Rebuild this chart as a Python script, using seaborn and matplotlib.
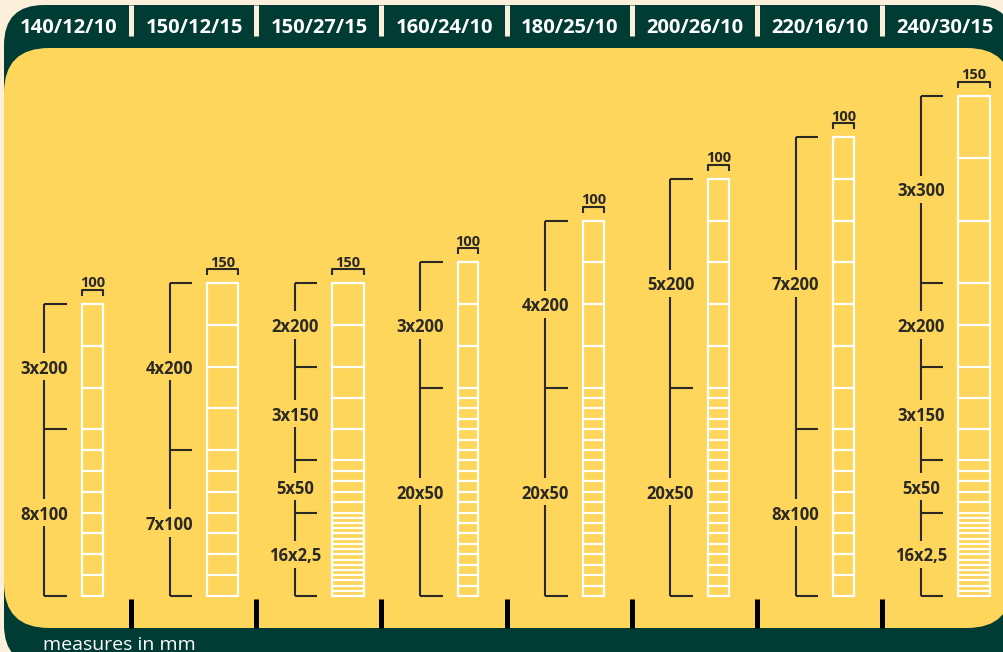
import numpy as np
import pandas as pd
import matplotlib
matplotlib.use("Agg")
import matplotlib.pyplot as plt
import matplotlib.transforms as mtransforms
from matplotlib.patches import FancyBboxPatch
import seaborn as sns

# panel types: height / number of wires / post spacing
panels = ["140/12/10", "150/12/15", "150/27/15", "160/24/10",
          "180/25/10", "200/26/10", "220/16/10", "240/30/15"]
mesh_width = [100, 150, 150, 100, 100, 100, 100, 150]

# wire spacing sections, top to bottom (count x spacing in mm)
seg_counts = [[3, 8], [4, 7], [2, 3, 5, 16], [3, 20],
              [4, 20], [5, 20], [7, 8], [3, 2, 3, 5, 16]]
seg_spacing = [[200, 100], [200, 100], [200, 150, 50, 25], [200, 50],
               [200, 50], [200, 50], [200, 100], [300, 200, 150, 50, 25]]
seg_labels = [["3x200", "8x100"], ["4x200", "7x100"],
              ["2x200", "3x150", "5x50", "16x2,5"], ["3x200", "20x50"],
              ["4x200", "20x50"], ["5x200", "20x50"], ["7x200", "8x100"],
              ["3x300", "2x200", "3x150", "5x50", "16x2,5"]]

CREAM = "#fcf0dd"
GREEN = "#003b34"
YELLOW = "#fed65c"
INK = "#2b2926"

# layout (pixels of the 1004x652 canvas)
PX_PER_MM = 0.2085
X0, Y0 = 82, 596
COL_STEP = 125.2 / PX_PER_MM

sns.set_theme(style="white")
plt.rcParams["font.family"] = ["Open Sans", "DejaVu Sans"]

fig = plt.figure(figsize=(10.04, 6.52), dpi=100)
fig.patch.set_facecolor(CREAM)

# background frame in pixel coordinates
bg = fig.add_axes([0, 0, 1, 1])
bg.set_xlim(0, 1004)
bg.set_ylim(652, 0)
bg.axis("off")
bg.add_patch(FancyBboxPatch((4, 5), 1010, 660, boxstyle="round,pad=0,rounding_size=40",
                            facecolor=GREEN, edgecolor="none"))
bg.add_patch(FancyBboxPatch((4, 48), 1008, 580, boxstyle="round,pad=0,rounding_size=45",
                            facecolor=YELLOW, edgecolor="none"))
bg.text(43, 650, "measures in mm", color="white", fontsize=14, va="baseline")

# main axes in mm
ax = fig.add_axes([0, 0, 1, 1])
ax.patch.set_alpha(0)

rows = []
for i, name in enumerate(panels):
    left = i * COL_STEP
    right = left + mesh_width[i]
    steps = np.repeat(seg_spacing[i], seg_counts[i])
    total = steps.sum()
    heights = np.concatenate([[total], total - np.cumsum(steps)])
    for j, h in enumerate(heights):
        rows.append({"x": left, "y": h, "wire": f"{i}-{j}"})
        rows.append({"x": right, "y": h, "wire": f"{i}-{j}"})
    for side, xs in (("L", left), ("R", right)):
        rows.append({"x": xs, "y": 0, "wire": f"{i}-{side}"})
        rows.append({"x": xs, "y": total, "wire": f"{i}-{side}"})

    # mesh width bracket on top
    ax.plot([left, left, right, right], [total + 38, total + 67, total + 67, total + 38],
            color=INK, lw=1.5, solid_capstyle="butt")
    ax.text((left + right) / 2, total + 80, str(mesh_width[i]), ha="center", va="baseline",
            fontsize=10.5, fontweight="bold", color=INK)

    # height bracket on the left
    bx = left - 180
    arm = left - 72
    sec = np.array(seg_counts[i]) * np.array(seg_spacing[i])
    bounds = np.concatenate([[total], total - np.cumsum(sec)])
    ax.hlines(bounds, bx, arm, color=INK, lw=1.5)
    for k, lab in enumerate(seg_labels[i]):
        top, bot = bounds[k], bounds[k + 1]
        mid = (top + bot) / 2
        ax.vlines([bx, bx], [mid + 65, bot], [top, mid - 65], color=INK, lw=1.5)
        ax.text(bx, mid, lab, ha="center", va="center_baseline", fontsize=12,
                fontweight="bold", color=INK)

wires = pd.DataFrame(rows)
sns.lineplot(data=wires, x="x", y="y", units="wire", estimator=None, sort=True,
             color="white", linewidth=1.6, legend=False, ax=ax)

# header labels, separators and bottom post marks
blend = mtransforms.blended_transform_factory(ax.transData, bg.transData)
col_x = np.arange(len(panels)) * COL_STEP
for i, name in enumerate(panels):
    ax.text(col_x[i] - 13 / PX_PER_MM, 33, name, transform=blend, ha="center", va="baseline",
            fontsize=14.5, fontweight="bold", color="white")
sep_x = col_x[:-1] + 49 / PX_PER_MM
ax.vlines(sep_x, 5, 36, transform=blend, color=CREAM, lw=3.6)
ax.vlines(sep_x, 599, 628, transform=blend, color="black", lw=3.6)

ax.set_xlim(-X0 / PX_PER_MM, (1004 - X0) / PX_PER_MM)
ax.set_ylim(-(652 - Y0) / PX_PER_MM, Y0 / PX_PER_MM)
ax.axis("off")

fig.savefig("out.png", dpi=100, facecolor=CREAM)
